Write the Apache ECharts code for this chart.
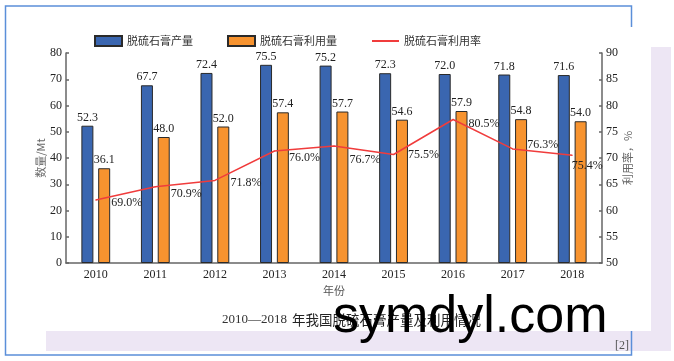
<!DOCTYPE html>
<html>
<head>
<meta charset="utf-8">
<script src="https://cdn.jsdelivr.net/npm/echarts@6/dist/echarts.min.js"></script>
<style>
html,body{margin:0;padding:0;background:#fff;}
#chart{width:674px;height:361px;}
</style>
</head>
<body>
<div id="chart"></div>
<script>
const categories = ['2010', '2011', '2012', '2013', '2014', '2015', '2016', '2017', '2018'];
const production = [52.3, 67.7, 72.4, 75.5, 75.2, 72.3, 72.0, 71.8, 71.6];
const utilization = [36.1, 48.0, 52.0, 57.4, 57.7, 54.6, 57.9, 54.8, 54.0];
const utilRate = [69.0, 70.9, 71.8, 76.0, 76.7, 75.5, 80.5, 76.3, 75.4];
const seriesNames = ['脱硫石膏产量', '脱硫石膏利用量', '脱硫石膏利用率'];
// label nudges for the rate labels (layout only)
const rateLabelNudge = [[15, 3], [15, 7], [15, 2], [14, 7], [15, 14], [14, 0], [15, 4], [14, -4], [-1, 11]];

const serif = 'Liberation Serif';
const cjk = 'Noto Sans CJK SC';

const chart = echarts.init(document.getElementById('chart'), null, {renderer: 'canvas'});
const axisLineStyle = {color: '#666', width: 1.5};

const option = {
  animation: false,
  backgroundColor: '#fff',
  grid: {left: 66, right: 72, top: 53, bottom: 98, containLabel: false},
  legend: {
    left: 94, top: 35, padding: 0,
    itemWidth: 27, itemHeight: 10, itemGap: 34,
    textStyle: {fontFamily: cjk, fontSize: 11, color: '#333'},
    data: [
      {name: seriesNames[0], icon: 'rect'},
      {name: seriesNames[1], icon: 'rect'},
      {name: seriesNames[2], itemStyle: {opacity: 0}}
    ]
  },
  xAxis: {
    type: 'category',
    data: categories,
    name: '年份',
    nameLocation: 'middle',
    nameGap: 22,
    nameMoveOverlap: false,
    nameTextStyle: {fontFamily: cjk, fontSize: 11, color: '#555'},
    axisLine: {lineStyle: axisLineStyle},
    axisTick: {show: false},
    axisLabel: {fontFamily: serif, fontSize: 12, color: '#222', margin: 6}
  },
  yAxis: [
    {
      type: 'value', min: 0, max: 80, interval: 10, position: 'left',
      name: '数量/Mt', nameLocation: 'middle', nameRotate: 90, nameGap: 20,
      nameMoveOverlap: false,
      nameTextStyle: {fontFamily: cjk, fontSize: 11, color: '#666'},
      axisLine: {show: true, lineStyle: axisLineStyle},
      axisTick: {show: true, inside: true, length: 3, lineStyle: axisLineStyle},
      axisLabel: {fontFamily: serif, fontSize: 12, color: '#222', margin: 4},
      splitLine: {show: false}
    },
    {
      type: 'value', min: 50, max: 90, interval: 5, position: 'right',
      name: '利用率，%', nameLocation: 'middle', nameRotate: 90, nameGap: 20,
      nameMoveOverlap: false,
      nameTextStyle: {fontFamily: cjk, fontSize: 11, color: '#666'},
      axisLine: {show: true, lineStyle: axisLineStyle},
      axisTick: {show: true, inside: true, length: 3, lineStyle: axisLineStyle},
      axisLabel: {fontFamily: serif, fontSize: 12, color: '#222', margin: 4},
      splitLine: {show: false}
    },
    {
      type: 'value', min: 60, max: 90, position: 'right', show: false,
      splitLine: {show: false}
    }
  ],
  series: [
    {
      name: seriesNames[0], type: 'bar', yAxisIndex: 0,
      data: production, barWidth: 12, barGap: '40%',
      itemStyle: {color: '#3a66b0', borderColor: '#2a2a2a', borderWidth: 1},
      label: {show: true, position: 'top', distance: 2, fontFamily: serif, fontSize: 12, color: '#222',
        formatter: p => p.value.toFixed(1)}
    },
    {
      name: seriesNames[1], type: 'bar', yAxisIndex: 0,
      data: utilization, barWidth: 12, barGap: '40%',
      itemStyle: {color: '#f7932f', borderColor: '#2a2a2a', borderWidth: 1},
      label: {show: true, position: 'top', distance: 2, fontFamily: serif, fontSize: 12, color: '#222',
        formatter: p => p.value.toFixed(1)}
    },
    {
      name: seriesNames[2], type: 'line', yAxisIndex: 2,
      data: utilRate.map((v, i) => ({
        value: v,
        label: {offset: rateLabelNudge[i]}
      })),
      symbol: 'circle', symbolSize: 1, showSymbol: true, z: 5,
      lineStyle: {color: '#f03c3c', width: 1.5},
      itemStyle: {color: '#f03c3c'},
      label: {show: true, position: 'right', distance: 0, fontFamily: serif, fontSize: 12, color: '#222',
        formatter: p => p.value.toFixed(1) + '%'}
    }
  ],
  title: {
    text: '{a|2010—2018} {b|年我国脱硫石膏产量及利用情况}',
    left: 222, top: 311,
    padding: 0,
    textStyle: {
      fontWeight: 'normal',
      rich: {
        a: {fontFamily: serif, fontSize: 13, fontWeight: 'normal', color: '#333'},
        b: {fontFamily: cjk, fontSize: 13.5, fontWeight: 'normal', color: '#222'}
      }
    }
  },
  graphic: [
    {type: 'rect', z: -10, silent: true, shape: {x: 46, y: 331, width: 625, height: 20}, style: {fill: '#ede6f4'}},
    {type: 'rect', z: -10, silent: true, shape: {x: 651, y: 47, width: 20, height: 304}, style: {fill: '#ede6f4'}},
    {type: 'polyline', z: 10, silent: true, shape: {points: [[631.5, 27], [631.5, 6], [5.5, 6], [5.5, 355], [631.5, 355], [631.5, 331]]},
      style: {stroke: '#5b8fd9', lineWidth: 1.5, fill: null}},
    {type: 'text', z: 10, silent: true, style: {text: '[2]', x: 615, y: 340, font: '12px "Liberation Serif"', fill: '#555'}},
    {type: 'text', z: 100, silent: true, style: {text: 'symdyl.com', x: 333, y: 292, font: '52px "Liberation Sans"', fill: '#000'}}
  ]
};
chart.setOption(option);
</script>
</body>
</html>
